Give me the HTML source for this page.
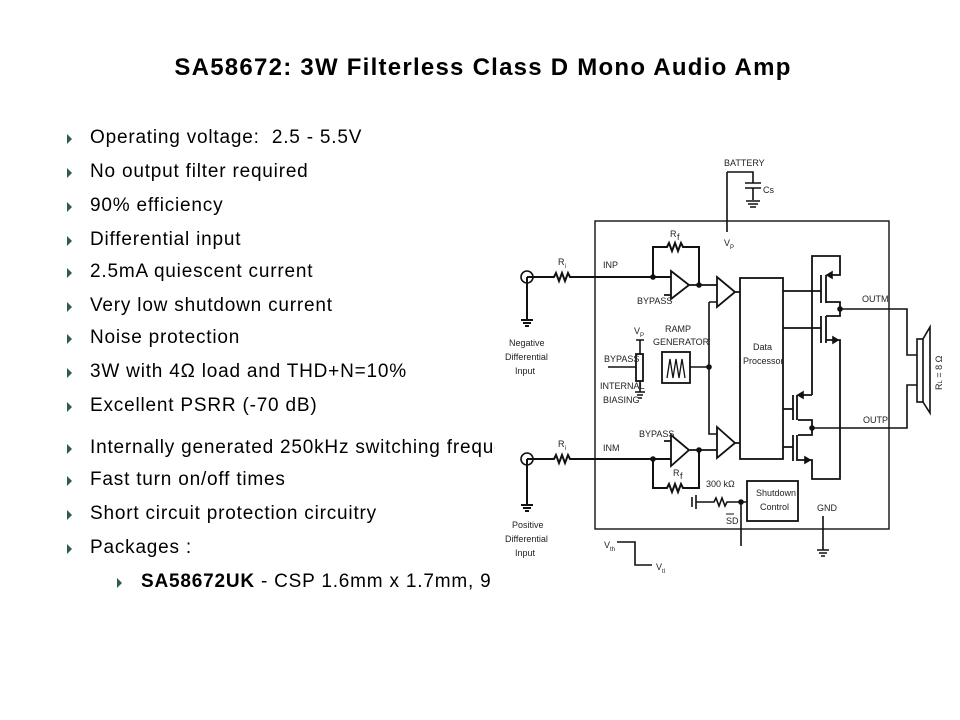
<!DOCTYPE html>
<html><head><meta charset="utf-8"><style>
body{margin:0;background:#fff;}
#w{position:relative;width:960px;height:720px;overflow:hidden;background:#fff;font-family:"Liberation Sans",sans-serif;}
h1{position:absolute;left:0;width:966px;top:54px;margin:0;text-align:center;font-size:24px;letter-spacing:1.25px;font-weight:bold;color:#000;}
.clip{position:absolute;left:0;top:0;width:495px;height:720px;overflow:hidden;}
.b{position:absolute;left:90px;font-size:19px;letter-spacing:0.8px;color:#000;white-space:nowrap;}
.a{position:absolute;width:0;height:0;border-top:5px solid transparent;border-bottom:5px solid transparent;border-left:5px solid #2f5b4c;}
svg{position:absolute;left:0;top:0;}
svg text{font-family:"Liberation Sans",sans-serif;font-size:9px;fill:#222;}
</style></head><body><div id="w">
<h1>SA58672: 3W Filterless Class D Mono Audio Amp</h1>
<div class="clip">
<div class="a" style="left:67px;top:134px"></div><div class="b" style="top:127px">Operating voltage:&nbsp; 2.5 - 5.5V</div>
<div class="a" style="left:67px;top:168px"></div><div class="b" style="top:161px">No output filter required</div>
<div class="a" style="left:67px;top:202px"></div><div class="b" style="top:195px">90% efficiency</div>
<div class="a" style="left:67px;top:236px"></div><div class="b" style="top:229px">Differential input</div>
<div class="a" style="left:67px;top:268px"></div><div class="b" style="top:261px">2.5mA quiescent current</div>
<div class="a" style="left:67px;top:302px"></div><div class="b" style="top:295px">Very low shutdown current</div>
<div class="a" style="left:67px;top:334px"></div><div class="b" style="top:327px">Noise protection</div>
<div class="a" style="left:67px;top:368px"></div><div class="b" style="top:361px">3W with 4Ω load and THD+N=10%</div>
<div class="a" style="left:67px;top:402px"></div><div class="b" style="top:395px">Excellent PSRR (-70 dB)</div>
<div class="a" style="left:67px;top:444px"></div><div class="b" style="top:437px">Internally generated 250kHz switching frequency</div>
<div class="a" style="left:67px;top:476px"></div><div class="b" style="top:469px">Fast turn on/off times</div>
<div class="a" style="left:67px;top:510px"></div><div class="b" style="top:503px">Short circuit protection circuitry</div>
<div class="a" style="left:67px;top:544px"></div><div class="b" style="top:537px">Packages :</div>
<div class="a" style="left:117px;top:578px"></div><div class="b" style="left:141px;top:571px"><b>SA58672UK</b> - CSP 1.6mm x 1.7mm, 9 bump</div>
</div>
<svg width="960" height="720" viewBox="0 0 960 720" fill="none" stroke="#111" stroke-width="1.6">
<rect x="595" y="221" width="294" height="308" stroke-width="1.4"/>
<text x="724" y="166" stroke="none">BATTERY</text>
<path d="M727 172H753V183M745 183H761M745 188H761M753 188V200M746 201H760M748 204H758M750 207H756M727 172V232"/>
<text x="763" y="193" stroke="none">Cs</text>
<text x="724" y="246" stroke="none">V</text><text x="730" y="249" stroke="none" style="font-size:6px">P</text>
<circle cx="527" cy="277" r="6"/>
<path d="M527 277H554l2-4 3 8 3-8 3 8 3-8 2 4H671M527 277V320M521 320H533M523 323H531M525 326H529" stroke-width="2"/>
<text x="558" y="265" stroke="none">R</text><text x="565" y="268" stroke="none" style="font-size:6px">i</text>
<text x="603" y="268" stroke="none">INP</text>
<text x="509" y="346" stroke="none">Negative</text><text x="505" y="360" stroke="none">Differential</text><text x="515" y="374" stroke="none">Input</text>
<circle cx="653" cy="277" r="2" fill="#111"/>
<path d="M653 277V247H667l2-4 3 8 3-8 3 8 3-8 2 4H699V285" stroke-width="2"/>
<text x="670" y="237" stroke="none">R</text><text x="677" y="240" stroke="none">f</text>
<path d="M671 271L689 285L671 299Z M664 295H671 M689 285H717" stroke-width="1.8"/>
<circle cx="699" cy="285" r="2" fill="#111"/>
<text x="637" y="304" stroke="none">BYPASS</text>
<path d="M717 277L735 292L717 307Z M735 292H740" stroke-width="1.8"/>
<path d="M709 302H717M709 302V434H717"/>
<rect x="740" y="278" width="43" height="181" stroke-width="1.8"/>
<text x="753" y="350" stroke="none">Data</text><text x="743" y="364" stroke="none">Processor</text>
<text x="665" y="332" stroke="none">RAMP</text><text x="653" y="345" stroke="none">GENERATOR</text>
<rect x="662" y="352" width="28" height="31" stroke-width="1.8"/>
<path d="M667 378L670 359L673 378L676 359L679 378L682 359L685 378" stroke-width="1.3"/>
<path d="M690 367H709"/><circle cx="709" cy="367" r="2" fill="#111"/>
<text x="634" y="334" stroke="none">V</text><text x="640" y="337" stroke="none" style="font-size:6px">P</text>
<path d="M636 340H644M640 340V354M640 381V392M635 392H645M637 395H643M638 398H642"/>
<rect x="636" y="354" width="7" height="27" stroke-width="1.8"/>
<path d="M608 367H636"/>
<text x="604" y="362" stroke="none">BYPASS</text>
<text x="600" y="389" stroke="none">INTERNAL</text><text x="603" y="403" stroke="none">BIASING</text>
<circle cx="527" cy="459" r="6"/>
<path d="M527 459H554l2-4 3 8 3-8 3 8 3-8 2 4H671M527 459V505M521 505H533M523 508H531M525 511H529" stroke-width="2"/>
<text x="558" y="447" stroke="none">R</text><text x="565" y="450" stroke="none" style="font-size:6px">i</text>
<text x="603" y="451" stroke="none">INM</text>
<text x="512" y="528" stroke="none">Positive</text><text x="505" y="542" stroke="none">Differential</text><text x="515" y="556" stroke="none">Input</text>
<circle cx="653" cy="459" r="2" fill="#111"/>
<path d="M653 459V488H667l2-4 3 8 3-8 3 8 3-8 2 4H699V450" stroke-width="2"/>
<text x="673" y="476" stroke="none">R</text><text x="680" y="479" stroke="none">f</text>
<path d="M671 435L689 450L671 466Z M664 441H671 M689 450H717" stroke-width="1.8"/>
<circle cx="699" cy="450" r="2" fill="#111"/>
<text x="639" y="437" stroke="none">BYPASS</text>
<path d="M717 427L735 443L717 458Z M735 443H740" stroke-width="1.8"/>
<text x="706" y="487" stroke="none">300 kΩ</text>
<rect x="747" y="481" width="51" height="40" stroke-width="1.8"/>
<text x="756" y="496" stroke="none">Shutdown</text><text x="760" y="510" stroke="none">Control</text>
<path d="M692 497V507M696 495V509M696 502H714l2-4 3 8 3-8 3 8 2-4H747M741 502V546"/>
<circle cx="741" cy="502" r="2" fill="#111"/>
<text x="726" y="524" stroke="none">SD</text><path d="M726 514H734" stroke-width="1"/>
<text x="817" y="511" stroke="none">GND</text>
<path d="M823 516V550M817 550H829M819 553H827M821 556H825"/>
<text x="604" y="548" stroke="none">V</text><text x="610" y="551" stroke="none" style="font-size:6px">th</text>
<path d="M617 542H635V565H652"/>
<text x="656" y="570" stroke="none">V</text><text x="662" y="573" stroke="none" style="font-size:6px">tl</text>
<path d="M783 291H821M783 328H821M783 409H793M783 447H793" stroke-width="1.8"/>
<path d="M821 275V303M826 275V303M821 316V343M826 316V343" stroke-width="1.8"/>
<path d="M812 395V256H840V275H827M826 302H840V316H826M826 340H840V479H812V460H798M812 395H798M798 420H812V435H798" stroke-width="1.8"/>
<path d="M793 395V420M797 395V420M793 435V461M797 435V461" stroke-width="1.8"/>
<path d="M827 275l5-3v6zM838 340l-5-3v6zM798 395l5-3v6zM810 460l-5-3v6z" fill="#111"/>
<circle cx="840" cy="309" r="2" fill="#111"/><circle cx="812" cy="428" r="2" fill="#111"/>
<path d="M840 309H907V355H917M812 428H907V385H917" stroke-width="1.6"/>
<text x="862" y="302" stroke="none">OUTM</text><text x="863" y="423" stroke="none">OUTP</text>
<rect x="917" y="339" width="6" height="63" stroke-width="1.6"/>
<path d="M923 339L930 327V413L923 402" stroke-width="1.6"/>
<text x="0" y="0" stroke="none" transform="translate(942 390) rotate(-90)">R<tspan style="font-size:6px">L</tspan> = 8 Ω</text>
</svg>
</div></body></html>
